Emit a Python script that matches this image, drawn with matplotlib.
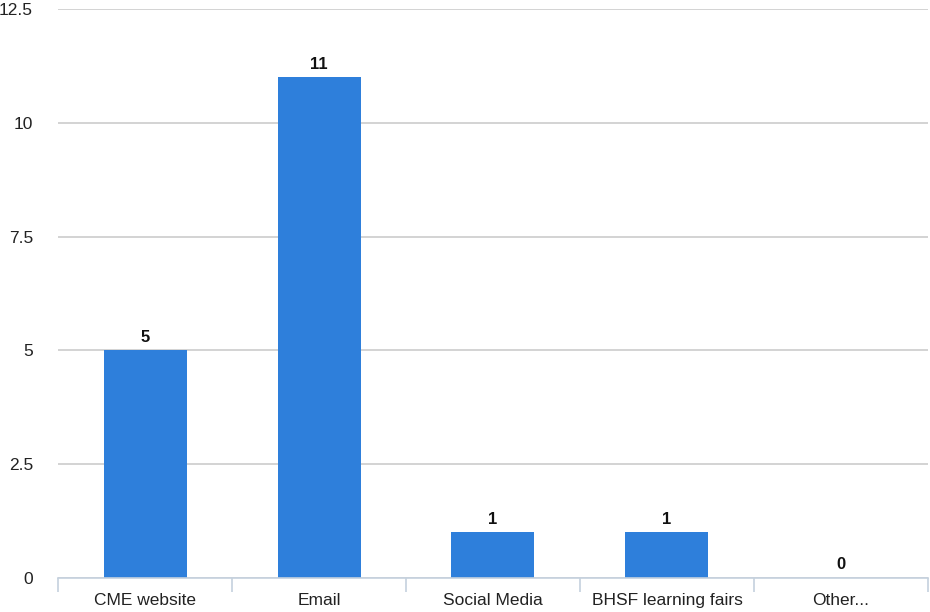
import numpy as np
import matplotlib.pyplot as plt

plt.rcParams['font.family'] = ['Liberation Sans', 'DejaVu Sans']

categories = ['CME website', 'Email', 'Social Media', 'BHSF learning fairs', 'Other...']
counts = [5, 11, 1, 1, 0]
yticks = [0, 2.5, 5, 7.5, 10, 12.5]
ytick_labels = ['0', '2.5', '5', '7.5', '10', '12.5']

bar_color = '#2e7fdb'
grid_color = '#cccccc'
axis_color = '#c5d1de'

fig = plt.figure(figsize=(9.3, 6.12), dpi=100)
ax = fig.add_axes([0.0624, 0.0556, 0.9354, 0.9297])

x = np.arange(len(categories))
bars = ax.bar(x, counts, width=0.477, color=bar_color, zorder=3)

# value labels just above each bar
for rect, v in zip(bars, counts):
    ax.annotate(str(v), xy=(rect.get_x() + rect.get_width() / 2, v),
                xytext=(0, 4), textcoords='offset points',
                ha='center', va='bottom', fontsize=12, fontweight='bold', color='#111111')

ax.set_xlim(-0.5, len(categories) - 0.5)
ax.set_ylim(0, 12.5)
ax.set_yticks(yticks)
ax.set_yticklabels(ytick_labels)
ax.set_xticks(x)
ax.set_xticklabels(categories)
ax.set_xticks(np.arange(len(categories) + 1) - 0.5, minor=True)

ax.yaxis.grid(True, color=grid_color, linewidth=1.2, zorder=0)
ax.tick_params(axis='y', length=0, pad=18, labelsize=12.5, labelcolor='#222222')
ax.tick_params(axis='x', which='major', length=0, pad=11, labelsize=12.5, labelcolor='#222222')
ax.tick_params(axis='x', which='minor', length=10, width=1.2, color=axis_color)

for side in ['top', 'right', 'left']:
    ax.spines[side].set_visible(False)
ax.spines['bottom'].set_color(axis_color)
ax.spines['bottom'].set_linewidth(1.2)
ax.spines['bottom'].set_zorder(4)

fig.savefig('out.png', dpi=100)
